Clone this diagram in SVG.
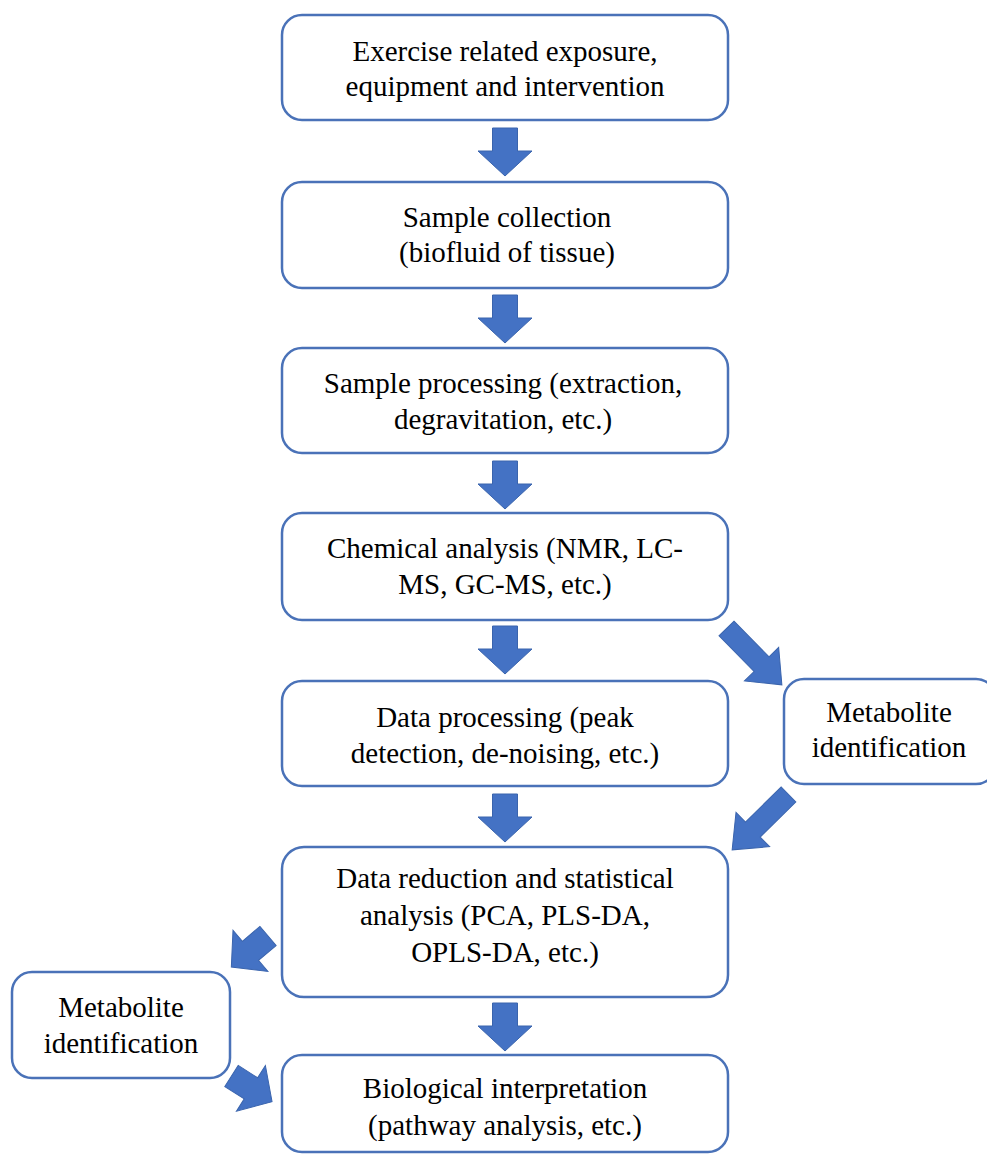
<svg xmlns="http://www.w3.org/2000/svg" xmlns:xlink="http://www.w3.org/1999/xlink" width="987" height="1155" viewBox="0 0 987 1155">
<defs>
<style>
.box{fill:#ffffff;stroke:#4a72b8;stroke-width:2.5}
.t{font-family:"Liberation Serif","Times New Roman",serif;font-size:29px;fill:#000;text-anchor:middle}
.arr{fill:#4472c4;stroke:#3a64ad;stroke-width:1;stroke-linejoin:miter}
</style>
<path id="sa" d="M0,-12.5 H23 V-27 L48,0 L23,27 V12.5 H0 Z"/>
<path id="la" d="M0,-10.5 H50 V-24 L79,0 L50,24 V10.5 H0 Z"/>
</defs>
<rect width="987" height="1155" fill="#ffffff"/>
<g id="connectors">
<use xlink:href="#sa" class="arr" transform="translate(505,128) rotate(90)"/>
<use xlink:href="#sa" class="arr" transform="translate(505,295) rotate(90)"/>
<use xlink:href="#sa" class="arr" transform="translate(505,461) rotate(90)"/>
<use xlink:href="#sa" class="arr" transform="translate(505,626) rotate(90)"/>
<use xlink:href="#sa" class="arr" transform="translate(505,794) rotate(90)"/>
<use xlink:href="#sa" class="arr" transform="translate(505,1003) rotate(90)"/>
<use xlink:href="#la" class="arr" transform="translate(726.5,628.5) rotate(45.5)"/>
<use xlink:href="#la" class="arr" transform="translate(788.5,794.5) rotate(135.5)"/>
<use xlink:href="#sa" class="arr" transform="translate(268,936) rotate(139.8)"/>
<use xlink:href="#sa" class="arr" transform="translate(231.5,1076) rotate(32.4)"/>
</g>
<g id="n1"><rect class="box" x="282" y="15" width="446" height="105" rx="20"/>
<text class="t" x="505" y="61">Exercise related exposure,</text><text class="t" x="505" y="96">equipment and intervention</text></g>
<g id="n2"><rect class="box" x="282" y="182" width="446" height="106" rx="20"/>
<text class="t" x="507" y="227">Sample collection</text><text class="t" x="507" y="262">(biofluid of tissue)</text></g>
<g id="n3"><rect class="box" x="282" y="348" width="446" height="105" rx="20"/>
<text class="t" x="503" y="393">Sample processing (extraction,</text><text class="t" x="503" y="429">degravitation, etc.)</text></g>
<g id="n4"><rect class="box" x="282" y="513" width="446" height="107" rx="20"/>
<text class="t" x="505" y="558">Chemical analysis (NMR, LC-</text><text class="t" x="505" y="594">MS, GC-MS, etc.)</text></g>
<g id="n5"><rect class="box" x="282" y="681" width="446" height="105" rx="20"/>
<text class="t" x="505" y="727">Data processing (peak</text><text class="t" x="505" y="763">detection, de-noising, etc.)</text></g>
<g id="n6"><rect class="box" x="282" y="847" width="446" height="150" rx="22"/>
<text class="t" x="505" y="888">Data reduction and statistical</text><text class="t" x="505" y="925">analysis (PCA, PLS-DA,</text><text class="t" x="505" y="962">OPLS-DA, etc.)</text></g>
<g id="n7"><rect class="box" x="282" y="1055" width="446" height="97" rx="20"/>
<text class="t" x="505" y="1098">Biological interpretation</text><text class="t" x="505" y="1135">(pathway analysis, etc.)</text></g>
<g id="n8"><rect class="box" x="784" y="679" width="212" height="105" rx="20"/>
<text class="t" x="889" y="722">Metabolite</text><text class="t" x="889" y="757">identification</text></g>
<g id="n9"><rect class="box" x="12" y="972" width="218" height="106" rx="20"/>
<text class="t" x="121" y="1017">Metabolite</text><text class="t" x="121" y="1053">identification</text></g>
</svg>
